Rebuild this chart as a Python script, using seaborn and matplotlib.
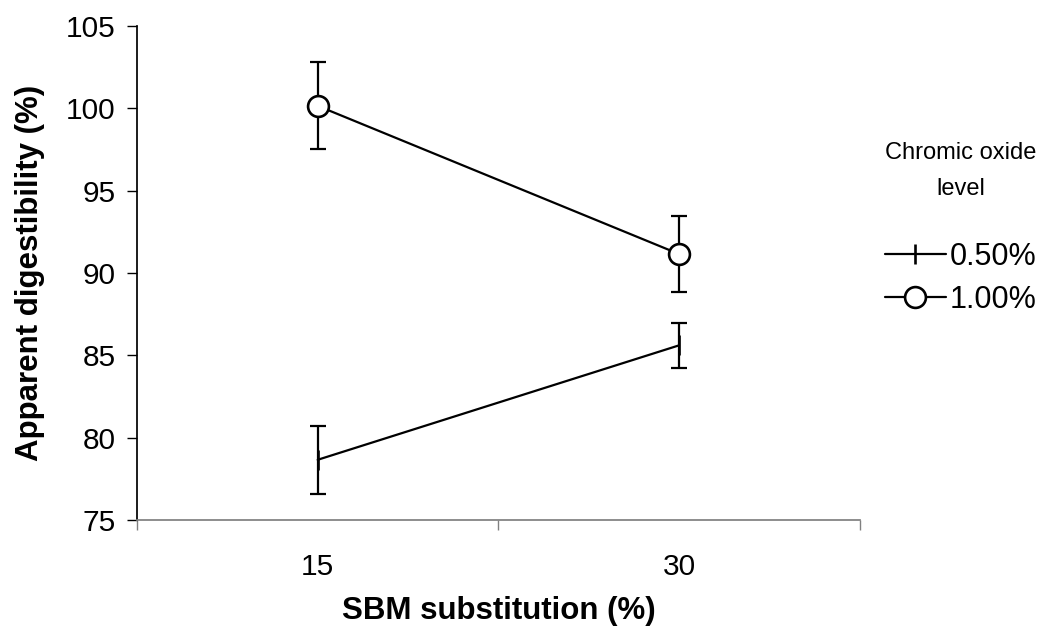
import pandas as pd
import matplotlib
matplotlib.use("Agg")
import matplotlib.pyplot as plt
import seaborn as sns

# data
sbm_levels = ["15", "30"]
oxide_levels = ["0.50%", "1.00%"]
digest_050 = [78.65, 85.6]
err_050 = [2.05, 1.35]
digest_100 = [100.15, 91.15]
err_100 = [2.65, 2.3]

df = pd.DataFrame({
    "sbm": sbm_levels * 2,
    "level": [oxide_levels[0]] * 2 + [oxide_levels[1]] * 2,
    "digest": digest_050 + digest_100,
    "err": err_050 + err_100,
})

sns.set_theme(style="ticks")
plt.rcParams["font.family"] = ["Liberation Sans", "DejaVu Sans"]
plt.rcParams["text.color"] = "black"
plt.rcParams["axes.labelcolor"] = "black"
plt.rcParams["xtick.color"] = "black"
plt.rcParams["ytick.color"] = "black"

fig = plt.figure(figsize=(10.42, 6.34), dpi=100)
ax = fig.add_axes([0.1315, 0.18, 0.6935, 0.779])

# error bars first so the markers sit on top
for i, lvl in enumerate(oxide_levels):
    sub = df[df["level"] == lvl]
    ax.errorbar(x=range(len(sub)), y=sub["digest"], yerr=sub["err"], fmt="none",
                ecolor="black", elinewidth=1.6, capsize=6, capthick=1.6, zorder=2)

sns.pointplot(data=df, x="sbm", y="digest", hue="level", order=sbm_levels,
              hue_order=oxide_levels, palette=["black", "black"],
              markers=["|", "o"], linestyles=["-", "-"], errorbar=None,
              markersize=15, markerfacecolor="white", markeredgewidth=1.9,
              linewidth=1.6, zorder=4, ax=ax)

ax.set_xlim(-0.5, 1.5)
ax.set_ylim(75, 105)
ax.set_yticks(range(75, 106, 5))
ax.set_xticks([-0.5, 0.5, 1.5], minor=False)
ax.set_xticks([0, 1], minor=True)
ax.set_xticklabels([])
ax.set_xticklabels(sbm_levels, minor=True)
ax.tick_params(axis="x", which="minor", length=0, labelsize=21.5, pad=24)
ax.tick_params(axis="x", which="major", length=7, width=1, color="#808080")
ax.tick_params(axis="y", length=7, width=1, labelsize=21.5, pad=8.5)
ax.spines["top"].set_visible(False)
ax.spines["right"].set_visible(False)
ax.spines["bottom"].set_color("#808080")
ax.spines["left"].set_color("black")

ax.set_xlabel("SBM substitution (%)", fontsize=22.5, fontweight="bold", labelpad=11)
ax.set_ylabel("Apparent digestibility (%)", fontsize=22.5, fontweight="bold", labelpad=15)

handles, labels = ax.get_legend_handles_labels()
ax.get_legend().remove()
leg = fig.legend(handles, labels, title="Chromic oxide\nlevel", loc="center",
                 bbox_to_anchor=(0.922, 0.64), frameon=False, fontsize=22,
                 title_fontsize=17, handlelength=2.0, handletextpad=0.12,
                 labelspacing=0.42)
leg.get_title().set_linespacing(1.85)
leg.get_title().set_ha("center")
leg._legend_box.sep = 30

fig.savefig("out.png", dpi=100)
